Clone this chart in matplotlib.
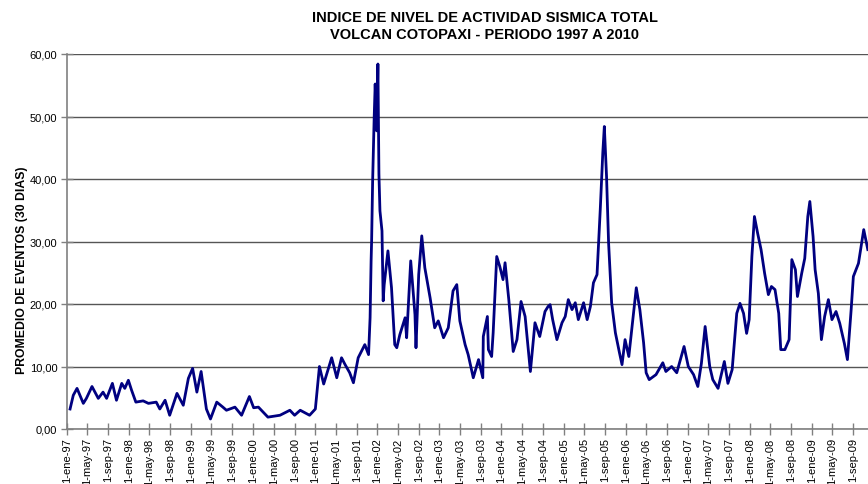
import datetime
import matplotlib
matplotlib.use('Agg')
import matplotlib.pyplot as plt
from matplotlib import dates
from matplotlib.ticker import FuncFormatter, MultipleLocator, FixedLocator

plt.rcParams['font.family'] = ['Liberation Sans', 'DejaVu Sans']

# valores (promedio movil de 30 dias)
fechas = [
    '1997-01-19', '1997-02-07', '1997-03-01', '1997-04-07', '1997-04-25', '1997-05-28',
    '1997-07-04', '1997-08-01', '1997-08-22', '1997-09-25', '1997-10-19', '1997-11-19',
    '1997-12-07', '1997-12-28', '1998-01-16', '1998-02-10', '1998-03-25', '1998-04-25',
    '1998-06-10', '1998-07-01', '1998-08-01', '1998-08-28', '1998-10-10', '1998-11-16',
    '1998-12-16', '1999-01-10', '1999-02-04', '1999-03-01', '1999-04-01', '1999-04-25',
    '1999-06-01', '1999-07-07', '1999-07-28', '1999-09-16', '1999-10-25', '1999-12-10',
    '2000-01-04', '2000-02-01', '2000-03-28', '2000-06-07', '2000-08-04', '2000-09-01',
    '2000-10-04', '2000-11-28', '2001-01-01', '2001-01-25', '2001-02-19', '2001-04-07',
    '2001-05-07', '2001-06-04', '2001-06-25', '2001-07-22', '2001-08-13', '2001-09-10',
    '2001-10-19', '2001-11-10', '2001-11-19', '2001-11-25', '2001-11-28', '2001-12-04',
    '2001-12-13', '2001-12-19', '2001-12-28', '2002-01-04', '2002-01-10', '2002-01-16',
    '2002-01-28', '2002-02-04', '2002-02-10', '2002-03-04', '2002-03-25', '2002-04-13',
    '2002-04-25', '2002-05-13', '2002-06-13', '2002-06-22', '2002-07-16', '2002-08-10',
    '2002-08-16', '2002-09-01', '2002-09-19', '2002-10-07', '2002-11-07', '2002-12-04',
    '2002-12-25', '2003-01-25', '2003-02-22', '2003-03-22', '2003-04-13', '2003-05-01',
    '2003-06-01', '2003-06-19', '2003-07-19', '2003-08-19', '2003-09-13', '2003-09-16',
    '2003-10-10', '2003-10-16', '2003-11-04', '2003-11-13', '2003-12-04', '2003-12-22',
    '2004-01-10', '2004-01-22', '2004-02-13', '2004-03-10', '2004-04-01', '2004-04-25',
    '2004-05-19', '2004-06-19', '2004-07-16', '2004-08-13', '2004-09-13', '2004-10-01',
    '2004-10-13', '2004-10-28', '2004-11-22', '2004-12-22', '2005-01-10', '2005-01-28',
    '2005-02-19', '2005-03-10', '2005-03-28', '2005-04-28', '2005-05-19', '2005-06-07',
    '2005-06-25', '2005-07-16', '2005-08-04', '2005-08-19', '2005-08-28', '2005-09-10',
    '2005-09-22', '2005-10-10', '2005-11-01', '2005-11-25', '2005-12-10', '2005-12-28',
    '2006-01-19', '2006-03-04', '2006-03-25', '2006-04-16', '2006-05-01', '2006-05-19',
    '2006-06-28', '2006-08-07', '2006-08-25', '2006-09-28', '2006-10-28', '2006-12-10',
    '2007-01-04', '2007-02-04', '2007-03-01', '2007-03-22', '2007-04-13', '2007-05-10',
    '2007-05-28', '2007-06-28', '2007-08-04', '2007-08-25', '2007-09-19', '2007-10-16',
    '2007-11-04', '2007-11-25', '2007-12-13', '2007-12-28', '2008-01-13', '2008-01-28',
    '2008-02-16', '2008-03-07', '2008-03-28', '2008-04-19', '2008-05-07', '2008-05-28',
    '2008-06-19', '2008-07-01', '2008-07-25', '2008-08-19', '2008-09-04', '2008-09-25',
    '2008-10-07', '2008-11-01', '2008-11-19', '2008-12-07', '2008-12-19', '2009-01-07',
    '2009-01-19', '2009-02-07', '2009-02-25', '2009-03-16', '2009-04-07', '2009-04-28',
    '2009-05-22', '2009-06-13', '2009-07-10', '2009-07-28', '2009-08-19', '2009-09-01',
    '2009-10-01', '2009-11-01', '2009-11-25',
]
eventos = [
    3.2, 5.4, 6.5, 4.1, 4.9, 6.8,
    4.9, 5.9, 4.9, 7.3, 4.6, 7.3,
    6.5, 7.8, 6.2, 4.3, 4.5, 4.1,
    4.3, 3.2, 4.6, 2.2, 5.7, 3.8,
    8.1, 9.7, 5.9, 9.2, 3.2, 1.6,
    4.3, 3.5, 3.0, 3.5, 2.2, 5.2,
    3.4, 3.5, 1.9, 2.2, 3.0, 2.2,
    3.0, 2.2, 3.2, 10.0, 7.2, 11.4,
    8.2, 11.4, 10.3, 9.0, 7.4, 11.4,
    13.5, 11.9, 17.8, 26.9, 30.1, 39.7,
    49.8, 55.2, 47.7, 58.4, 40.8, 34.9,
    31.7, 20.5, 23.1, 28.5, 22.6, 13.5,
    13.0, 15.1, 17.8, 14.6, 26.9, 18.3,
    13.0, 24.7, 30.9, 25.8, 21.0, 16.2,
    17.3, 14.6, 16.2, 22.1, 23.1, 17.3,
    13.5, 11.9, 8.2, 11.1, 8.2, 14.8,
    18.0, 12.7, 11.6, 15.4, 27.6, 26.0,
    23.9, 26.6, 20.7, 12.4, 14.3, 20.4,
    18.0, 9.2, 17.0, 14.8, 18.8, 19.6,
    19.9, 17.5, 14.3, 17.0, 18.0, 20.7,
    19.1, 20.2, 17.5, 20.2, 17.5, 19.6,
    23.4, 24.7, 35.1, 44.2, 48.4, 40.4,
    29.8, 20.2, 15.4, 12.2, 10.3, 14.3,
    11.6, 22.6, 19.1, 13.8, 9.0, 7.9,
    8.7, 10.6, 9.2, 10.0, 9.0, 13.2,
    10.0, 8.7, 6.8, 10.5, 16.4, 10.0,
    7.9, 6.5, 10.8, 7.3, 9.5, 18.5,
    20.1, 18.5, 15.3, 17.5, 27.6, 34.0,
    31.3, 28.7, 24.9, 21.5, 22.8, 22.3,
    18.5, 12.7, 12.7, 14.3, 27.1, 25.5,
    21.2, 24.9, 27.3, 34.0, 36.4, 30.8,
    25.5, 21.7, 14.3, 18.0, 20.7, 17.5,
    18.8, 16.9, 13.7, 11.1, 19.1, 24.4,
    26.5, 31.9, 28.7,
]
meses = ['ene', 'feb', 'mar', 'abr', 'may', 'jun',
         'jul', 'ago', 'sep', 'oct', 'nov', 'dic']

x = [datetime.datetime.strptime(f, '%Y-%m-%d') for f in fechas]

fig = plt.figure(figsize=(8.68, 4.85), dpi=100)
# el eje se sale por la derecha, como en la imagen recortada
ax = fig.add_axes([67 / 868, 55 / 485, 836 / 868, 375 / 485])

ax.plot(x, eventos, color='#000080', linewidth=2.0, solid_joinstyle='round')

ax.set_ylim(0, 60)
ax.set_xlim(datetime.datetime(1997, 1, 1), datetime.datetime(2010, 6, 20))
ax.yaxis.set_major_locator(MultipleLocator(10))
ax.yaxis.set_major_formatter(FuncFormatter(lambda v, p: ('%.2f' % v).replace('.', ',')))
ax.yaxis.grid(True, color='#555555', linewidth=1.0)
ax.set_axisbelow(True)

# marcas cada 4 meses: ene, may, sep
ticks = [dates.date2num(datetime.datetime(a, m, 1))
         for a in range(1997, 2010) for m in (1, 5, 9)]
ax.xaxis.set_major_locator(FixedLocator(ticks))
ax.xaxis.set_major_formatter(FuncFormatter(
    lambda v, p: '1-%s-%s' % (meses[dates.num2date(v).month - 1],
                              dates.num2date(v).strftime('%y'))))

ax.tick_params(axis='both', direction='inout', length=8, width=1,
               color='#808080', labelsize=8, pad=3)
ax.tick_params(axis='x', pad=2)
plt.setp(ax.get_xticklabels(), rotation=90, va='top', ha='center')

for s in ['left', 'bottom']:
    ax.spines[s].set_color('#808080')
    ax.spines[s].set_linewidth(1.2)
ax.spines['top'].set_visible(False)
ax.spines['right'].set_visible(False)

fig.text(485 / 868, 1 - 18 / 485, 'INDICE DE NIVEL DE ACTIVIDAD SISMICA TOTAL',
         ha='center', va='center', fontsize=10.5, fontweight='bold')
fig.text(485 / 868, 1 - 35 / 485, 'VOLCAN COTOPAXI - PERIODO 1997 A 2010',
         ha='center', va='center', fontsize=10.5, fontweight='bold')
fig.text(22 / 868, 1 - 270 / 485, 'PROMEDIO DE EVENTOS (30 DIAS)',
         ha='center', va='center', rotation=90, fontsize=8.8, fontweight='bold')

plt.savefig('out.png', dpi=100)
